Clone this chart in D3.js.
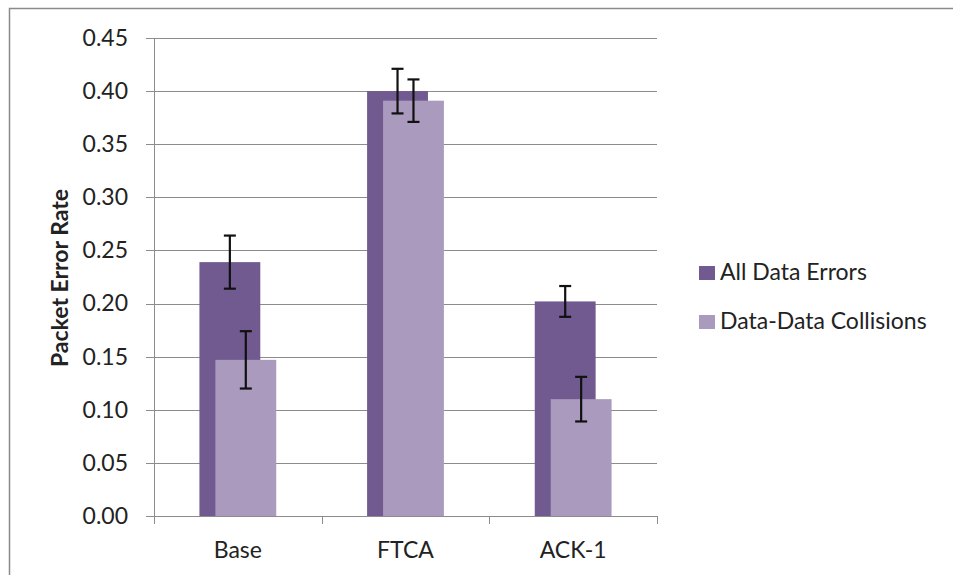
<!DOCTYPE html>
<html>
<head>
<meta charset="utf-8">
<script src="https://cdn.jsdelivr.net/npm/d3@7"></script>
<style>
  body { margin: 0; background: #fff; }
  text { font-family: Lato, "Open Sans", sans-serif; fill: #222; }
</style>
</head>
<body>
<div id="chart"></div>
<script>
// chart data
const categories = ["Base", "FTCA", "ACK-1"];
const seriesNames = ["All Data Errors", "Data-Data Collisions"];
const allErrors = [0.239, 0.400, 0.202];
const allErrorsErr = [0.025, 0.021, 0.0145];
const collisions = [0.147, 0.391, 0.110];
const collisionsErr = [0.027, 0.020, 0.021];
const yTicks = [0, 0.05, 0.10, 0.15, 0.20, 0.25, 0.30, 0.35, 0.40, 0.45];

const colors = ["#705a8f", "#a99abe"];

const width = 953, height = 575;
const margin = { left: 154, right: 296, top: 38, bottom: 59 };
const innerW = width - margin.left - margin.right;
const innerH = height - margin.top - margin.bottom;

const svg = d3.select("#chart").append("svg")
  .attr("width", width).attr("height", height);

// outer frame
svg.append("rect")
  .attr("x", 9.5).attr("y", 8.5)
  .attr("width", 960).attr("height", 600)
  .attr("fill", "none").attr("stroke", "#8a8a8a").attr("stroke-width", 1.5);

const g = svg.append("g").attr("transform", `translate(${margin.left},${margin.top})`);

const x = d3.scaleBand().domain(categories).range([0, innerW]);
const y = d3.scaleLinear().domain([0, 0.45]).range([innerH, 0]);

// gridlines
g.selectAll(".grid").data(yTicks).join("line")
  .attr("class", "grid")
  .attr("x1", -8).attr("x2", innerW)
  .attr("y1", d => Math.round(y(d)) + 0.5).attr("y2", d => Math.round(y(d)) + 0.5)
  .attr("stroke", "#8c8c8c").attr("stroke-width", 1);

// y axis
const AxisY = g.append("g").call(d3.axisLeft(y).tickValues(yTicks)
  .tickFormat(d3.format(".2f")).tickSize(0).tickPadding(26));
AxisY.select(".domain").attr("stroke", "#8c8c8c");
AxisY.selectAll("text").style("font-size", "23px").attr("fill", "#222");

// x axis
const AxisX = g.append("g").attr("transform", `translate(0,${innerH})`);
AxisX.append("line").attr("x1", 0).attr("x2", innerW).attr("y1", 0.5).attr("y2", 0.5)
  .attr("stroke", "#8c8c8c");
AxisX.selectAll(".xtick").data(d3.range(categories.length + 1)).join("line")
  .attr("class", "xtick")
  .attr("x1", i => Math.round(i * x.step()) + 0.5).attr("x2", i => Math.round(i * x.step()) + 0.5)
  .attr("y1", 0).attr("y2", 8).attr("stroke", "#8c8c8c");
AxisX.selectAll(".xlabel").data(categories).join("text")
  .attr("class", "xlabel")
  .attr("x", d => x(d) + x.bandwidth() / 2)
  .attr("y", 42)
  .attr("text-anchor", "middle")
  .style("font-size", "23px")
  .text(d => d);

// bars
const barW = x.bandwidth() * 0.363;
const shift = barW * 0.262;
const series = [
  { name: seriesNames[0], values: allErrors, err: allErrorsErr, off: -(barW + shift) / 2 },
  { name: seriesNames[1], values: collisions, err: collisionsErr, off: -(barW + shift) / 2 + shift }
];

series.forEach((s, si) => {
  const bars = categories.map((c, i) => ({ c, v: s.values[i], e: s.err[i] }));
  const sg = g.append("g");
  sg.selectAll("rect").data(bars).join("rect")
    .attr("x", d => x(d.c) + x.bandwidth() / 2 + s.off)
    .attr("y", d => y(d.v))
    .attr("width", barW)
    .attr("height", d => innerH - y(d.v))
    .attr("fill", colors[si]);
});

// error bars drawn on top
series.forEach((s, si) => {
  const bars = categories.map((c, i) => ({ c, v: s.values[i], e: s.err[i] }));
  const eg = g.append("g").attr("stroke", "#111").attr("stroke-width", 2.2);
  const cx = d => x(d.c) + x.bandwidth() / 2 + s.off + barW / 2;
  eg.selectAll(".v").data(bars).join("line").attr("class", "v")
    .attr("x1", cx).attr("x2", cx)
    .attr("y1", d => y(d.v + d.e)).attr("y2", d => y(d.v - d.e));
  ["top", "bot"].forEach(k => {
    eg.selectAll("." + k).data(bars).join("line").attr("class", k)
      .attr("x1", d => cx(d) - 6).attr("x2", d => cx(d) + 6)
      .attr("y1", d => y(k === "top" ? d.v + d.e : d.v - d.e))
      .attr("y2", d => y(k === "top" ? d.v + d.e : d.v - d.e));
  });
});

// y label
svg.append("text")
  .attr("transform", "translate(68,278) rotate(-90)")
  .attr("text-anchor", "middle")
  .style("font-size", "23px").style("font-weight", "bold")
  .text("Packet Error Rate");

// legend
const legend = svg.append("g").attr("transform", "translate(699,261)");
legend.selectAll("rect").data(seriesNames).join("rect")
  .attr("x", 0).attr("y", (d, i) => i * 49 + 5)
  .attr("width", 16).attr("height", 14)
  .attr("fill", (d, i) => colors[i]);
legend.selectAll("text").data(seriesNames).join("text")
  .attr("x", 21).attr("y", (d, i) => i * 49 + 19)
  .style("font-size", "23px")
  .text(d => d);
</script>
</body>
</html>
